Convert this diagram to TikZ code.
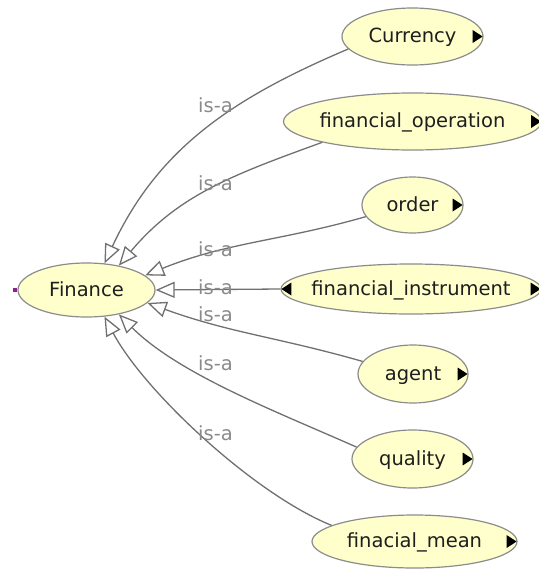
\documentclass[tikz,border=0pt]{standalone}
\usepackage{fontspec}
\setmainfont{DejaVu Sans}
\usetikzlibrary{shapes.geometric,arrows.meta}

\definecolor{clsfill}{HTML}{FFFFCC}
\definecolor{clsline}{HTML}{8C8C8C}
\definecolor{clstext}{HTML}{1E1E1E}
\definecolor{isaline}{HTML}{707070}
\definecolor{isatext}{HTML}{8A8A8A}
\definecolor{stubline}{HTML}{8E1F8E}

% black markers for classes that can be expanded
\newcommand\moreright[1]{\fill[black] ([xshift=-1pt]#1.east) -- ++(-10,6.5) -- ++(0,-13) -- cycle;}
\newcommand\moreleft[1]{\fill[black] ([xshift=1pt]#1.west) -- ++(10,6.5) -- ++(0,-13) -- cycle;}

\begin{document}
\begin{tikzpicture}[x=1pt,y=-1pt,
	cls/.style 2 args={ellipse,draw=clsline,line width=1.2pt,fill=clsfill,text=clstext,
		minimum width=#1pt,minimum height=#2pt,inner sep=0pt,text height=15pt,text depth=3pt,
		font=\fontsize{19.5}{20}\selectfont,
		execute at begin node={\hbox to 0pt\bgroup\hss},
		execute at end node={\hss\egroup}},
	isalabel/.style={anchor=west,inner sep=0pt,text=isatext,font=\fontsize{19.5}{20}\selectfont},
	isarrow/.style={draw=isaline,line width=1.3pt,-{Triangle[length=19pt,width=16pt,fill=white]}}]
		\useasboundingbox (0,0) rectangle (538,570);

		\draw (86.5,290) node [cls={137}{54}] (fin) {Finance};
		\draw (412.5,36.5) node [cls={141}{57}] (cur) {Currency};
		\draw (412.5,121.5) node [cls={258}{57}] (fop) {financial\_operation};
		\draw (412.5,205) node [cls={101}{56}] (ord) {order};
		\draw (411,289) node [cls={260}{50}] (fin-ins) {financial\_instrument};
		\draw (413,374) node [cls={110}{58}] (agt) {agent};
		\draw (412.5,459) node [cls={121}{58}] (qual) {quality};
		\draw (414.5,541.5) node [cls={205}{53}] (fmean) {finacial\_mean};

		\moreright{cur}
		\moreright{fop}
		\moreright{ord}
		\moreright{fin-ins}
		\moreleft{fin-ins}
		\moreright{agt}
		\moreright{qual}
		\moreright{fmean}

		\coordinate (stub) at (13,290);
		\draw [stubline,line width=4pt] (stub) -- (fin.west);

		\path [every edge/.style={isarrow}]
			(cur.191) edge [out=203,in=65] (fin.56)
			(fop.193) edge [out=200,in=50] (fin.37)
			(ord.194) edge [out=196,in=22] (fin.14)
			(fin-ins.west) edge (fin.east)
			(agt.166) edge [out=164,in=-20] (fin.-12)
			(qual.168) edge [out=156,in=-45,looseness=0.8] (fin.-37)
			(fmean.169) edge [out=158,in=-62,looseness=0.7] (fin.-56)
		;

		\node [isalabel] (l1) at (198,105) {is-a};
		\node [isalabel] (l2) at (198,183) {is-a};
		\node [isalabel] (l3) at (198,249) {is-a};
		\node [isalabel] (l4) at (198,287) {is-a};
		\node [isalabel] (l5) at (198,314) {is-a};
		\node [isalabel] (l6) at (198,363) {is-a};
		\node [isalabel] (l7) at (198,433) {is-a};
	\end{tikzpicture}
\end{document}
